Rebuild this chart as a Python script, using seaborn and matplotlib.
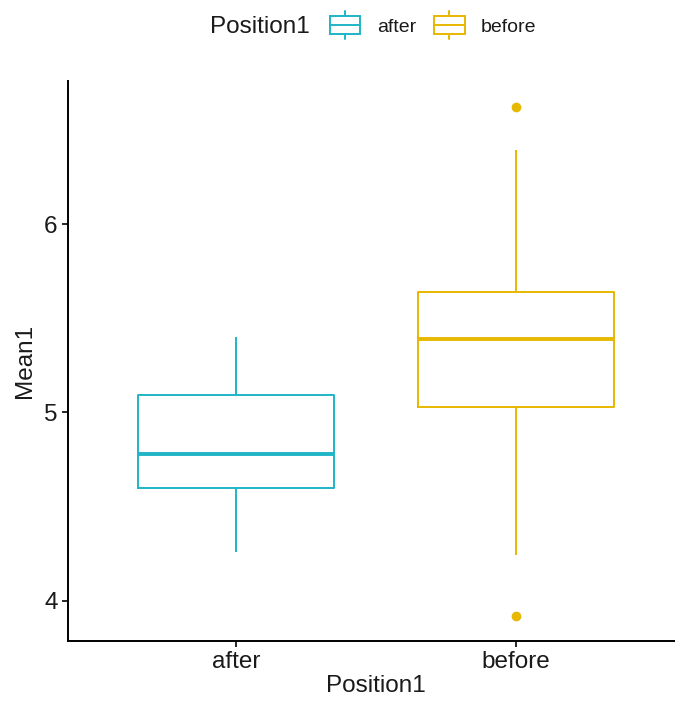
import matplotlib
matplotlib.use("Agg")
import matplotlib.pyplot as plt
import seaborn as sns
import pandas as pd
from matplotlib.legend_handler import HandlerBase
from matplotlib.patches import Rectangle
from matplotlib.lines import Line2D

# values reconstructed from the box statistics
after_vals = [4.26, 4.60, 4.78, 5.09, 5.40]
before_vals = [3.92, 4.24, 5.03, 5.20, 5.39, 5.50, 5.64, 6.395, 6.62]
categories = ["after", "before"]
palette = {"after": "#1FB4C6", "before": "#E7B800"}

df = pd.DataFrame({
    "Position1": ["after"] * len(after_vals) + ["before"] * len(before_vals),
    "Mean1": after_vals + before_vals,
})

sns.set_theme(style="ticks")
plt.rcParams["font.family"] = ["Liberation Sans", "DejaVu Sans"]

fig = plt.figure(figsize=(6.75, 7.01), dpi=100)
ax = fig.add_axes([68 / 675, (701 - 641) / 701, 616 / 675, (641 - 81) / 701])

sns.boxplot(data=df, x="Position1", y="Mean1", hue="Position1", order=categories,
            hue_order=categories, palette=palette, fill=False, width=0.7,
            linewidth=1.4, whis=1.5, legend=False, ax=ax,
            medianprops={"linewidth": 2.8},
            capprops={"linewidth": 0},
            flierprops={"marker": "o", "markersize": 7, "markeredgewidth": 0})

for line in ax.lines:
    if line.get_marker() == "o":
        line.set_markerfacecolor(line.get_markeredgecolor())

ax.set_xlim(-0.6, 1.6)
ax.set_ylim(3.785, 6.76)
ax.set_yticks([4, 5, 6])
for s in ["top", "right"]:
    ax.spines[s].set_visible(False)
for s in ["left", "bottom"]:
    ax.spines[s].set_linewidth(1.4)
    ax.spines[s].set_color("black")
ax.tick_params(axis="both", labelsize=17.5, width=1.2, length=4.5, color="black",
               labelcolor="#1a1a1a", pad=3)
ax.set_xlabel("Position1", fontsize=17.5, labelpad=1, color="#1a1a1a")
ax.set_ylabel("Mean1", fontsize=17.5, labelpad=6, color="#1a1a1a")


class BoxHandler(HandlerBase):
    def create_artists(self, legend, orig_handle, xdescent, ydescent, width, height, fontsize, trans):
        col = orig_handle.get_color()
        w = width
        x0 = -xdescent
        h = width * 0.62
        yc = -ydescent + height / 2
        y0 = yc - h / 2
        stub = width * 0.17
        rect = Rectangle((x0, y0), w, h, fill=False, edgecolor=col, lw=1.4, transform=trans)
        mid = Line2D([x0, x0 + w], [yc, yc], color=col, lw=1.4, transform=trans)
        cx = x0 + w / 2
        top = Line2D([cx, cx], [y0 + h, y0 + h + stub], color=col, lw=1.4, transform=trans)
        bot = Line2D([cx, cx], [y0, y0 - stub], color=col, lw=1.4, transform=trans)
        return [rect, mid, top, bot]


fig.text(210 / 675, 1 - 27 / 701, "Position1", fontsize=17.5, ha="left", va="center",
         color="#1a1a1a")
handles = [Line2D([], [], color=palette[c]) for c in categories]
leg = fig.legend(handles, categories, handler_map={Line2D: BoxHandler()},
                 loc="center left", bbox_to_anchor=(330 / 675, 1 - 27 / 701), ncol=2,
                 frameon=False, fontsize=14, borderpad=0, borderaxespad=0,
                 handlelength=1.55, handletextpad=0.85, columnspacing=0.95)
for t in leg.get_texts():
    t.set_color("#1a1a1a")

fig.savefig("out.png", dpi=100)
